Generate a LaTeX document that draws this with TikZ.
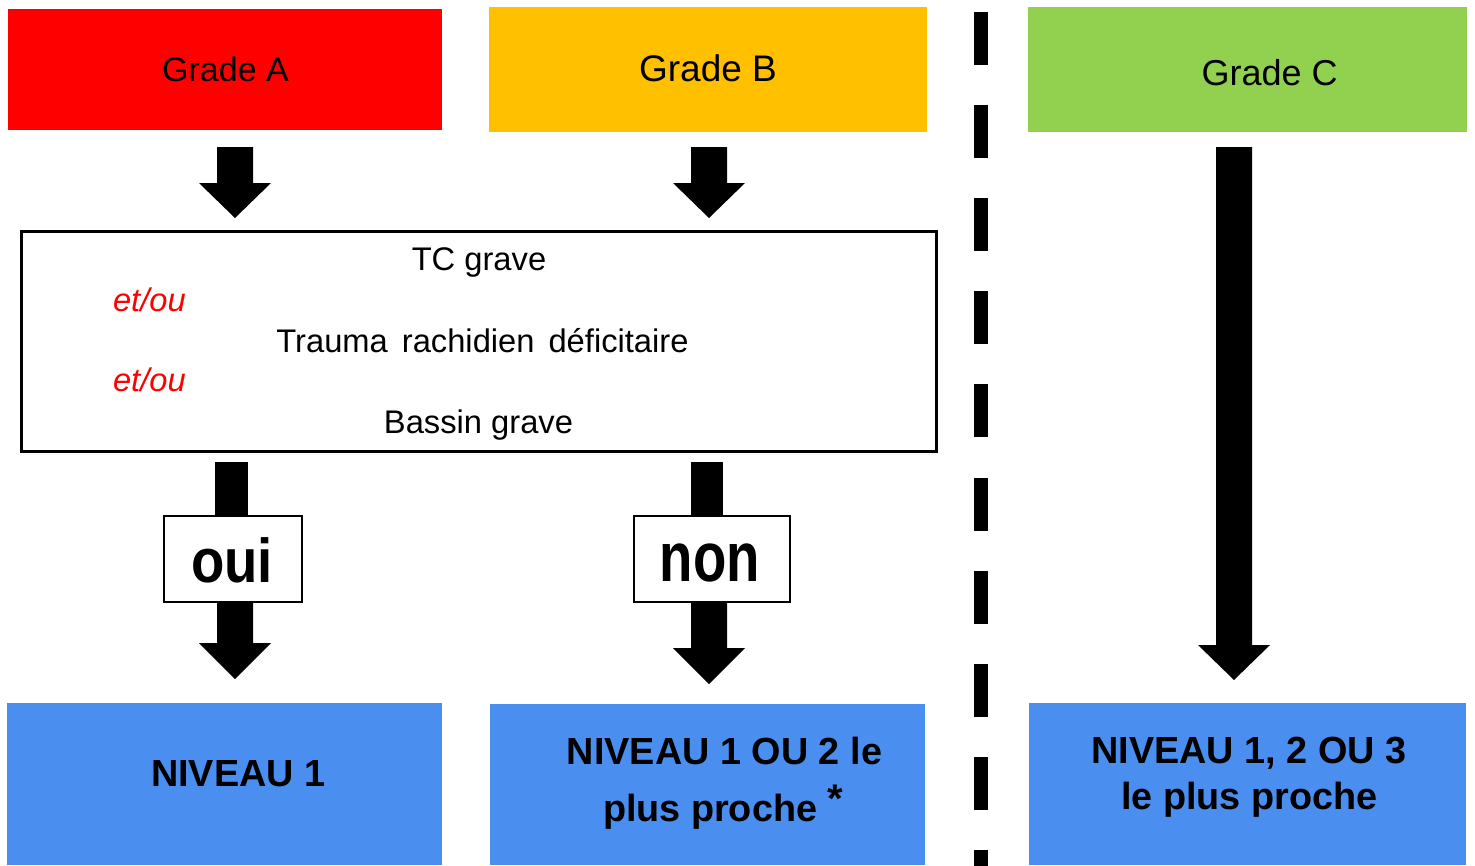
\documentclass[tikz,border=0pt]{standalone}
\usepackage{fontspec}
\setmainfont{Liberation Sans}
\usetikzlibrary{calc}
\definecolor{gradeA}{RGB}{255,0,0}
\definecolor{gradeB}{RGB}{255,192,0}
\definecolor{gradeC}{RGB}{146,208,80}
\definecolor{niveau}{RGB}{74,142,239}
\newcommand\fsz[1]{\fontsize{#1}{#1}\selectfont}
% block arrow: #1 start, #2 tip, #3 shaft width, #4 head length
\newcommand\blockarr[4]{%
  \fill let \p1=(#1), \p2=(#2) in
    ({\x2-#3/2},\y1) -- ({\x2+#3/2},\y1) -- ({\x2+#3/2},{\y2+#4}) -- ({\x2+36},{\y2+#4})
    -- (\x2,\y2) -- ({\x2-36},{\y2+#4}) -- ({\x2-#3/2},{\y2+#4}) -- cycle;}
\begin{document}
\begin{tikzpicture}[x=1pt,y=-1pt,
  panel/.style={inner sep=0pt,outer sep=0pt},
  txt/.style={inner sep=0pt,outer sep=0pt,anchor=base},
  txtw/.style={inner sep=0pt,outer sep=0pt,anchor=base west},
  choice/.style={panel,draw=black,line width=1.5pt,fill=white,minimum height=86pt},
  shaftline/.style={draw=black,line width=#1},
  bigtext/.style={font=\fsz{37.8}\bfseries},
  boxtext/.style={font=\fsz{32.7}},
  orlabel/.style={font=\fsz{32.7}\itshape,text=red}
]
\useasboundingbox (0,0) rectangle (1475,865);

% grade panels
\node[panel,fill=gradeA,minimum width=434pt,minimum height=121pt] (gA) at (225,69.5) {};
\node[panel,fill=gradeB,minimum width=438pt,minimum height=125pt] (gB) at (708,69.5) {};
\node[panel,fill=gradeC,minimum width=439pt,minimum height=125pt] (gC) at (1247.5,69.5) {};
\node[txt,font=\fsz{34}] (gAt) at (225.5,81.7) {Grade A};
\node[txt,font=\fsz{37}] (gBt) at (708,81.5) {Grade B};
\node[txt,font=\fsz{36}] (gCt) at (1269.7,85.4) {Grade C};

% criteria box
\node[panel,draw=black,line width=3pt,minimum width=915pt,minimum height=220pt] (box) at (479,341.4) {};
\node[txt,boxtext] (l1) at (479,270) {TC grave};
\node[txtw,orlabel] (o1) at (113,311) {et/ou};
\node[txt,boxtext] (l2) at (482.5,352) {Trauma\hspace{14pt}rachidien\hspace{14pt}déficitaire};
\node[txtw,orlabel] (o2) at (113,391.7) {et/ou};
\node[txt,boxtext] (l3) at (478.5,433) {Bassin grave};

% bottom panels
\node[panel,fill=niveau,minimum width=435pt,minimum height=162pt] (n1) at (224.5,784) {};
\node[panel,fill=niveau,minimum width=435pt,minimum height=161pt] (n2) at (707.5,784.5) {};
\node[panel,fill=niveau,minimum width=437pt,minimum height=162pt] (n3) at (1247.5,784) {};
\node[txt,bigtext] (n1t) at (238.3,786.7) {NIVEAU 1};
\node[txt,bigtext] (n2a) at (724.5,764) {NIVEAU 1 OU 2 le};
\node[txtw,bigtext] (n2b) at (603,821.7) {plus proche \raisebox{9pt}{\fsz{40}*}};
\node[txt,bigtext] (n3a) at (1249,763.3) {NIVEAU 1, 2 OU 3};
\node[txt,bigtext] (n3b) at (1249.3,809.3) {le plus proche};

% arrows from grades
\blockarr{$(gA.south)+(10,17)$}{$(box.north)+(-244,-13.4)$}{36}{35}
\blockarr{$(gB.south)+(1,15)$}{$(box.north)+(230,-13.4)$}{36}{35}
\blockarr{$(gC.south)+(-13.5,15)$}{$(n3.north)+(-13.5,-23)$}{36}{35}

% oui / non
\node[choice,minimum width=138pt] (oui) at (232.8,559) {};
\node[choice,minimum width=156pt] (non) at (711.8,559) {};
\draw[shaftline=33pt] ($(box.south)+(-248,11)$) -- ($(oui.north)+(-1.8,0)$);
\draw[shaftline=32pt] ($(box.south)+(228,11)$) -- ($(non.north)+(-4.8,0)$);
\blockarr{oui.south}{$(n1.north)+(10.5,-24)$}{36}{36}
\blockarr{non.south}{$(n2.north)+(1.5,-20)$}{36}{36}
\node[txt,font=\fsz{62}\bfseries,xscale=0.88] (ouit) at (232,582.7) {oui};
\node[txt,font=\fsz{70}\bfseries,xscale=0.78] (nont) at (710,581.7) {non};

% separator
\coordinate (sepTop) at (980.8,11.5);
\coordinate (sepBot) at (980.8,870);
\draw[line width=13.4pt,dash pattern=on 53pt off 40.2pt] (sepTop) -- (sepBot);
\end{tikzpicture}
\end{document}
